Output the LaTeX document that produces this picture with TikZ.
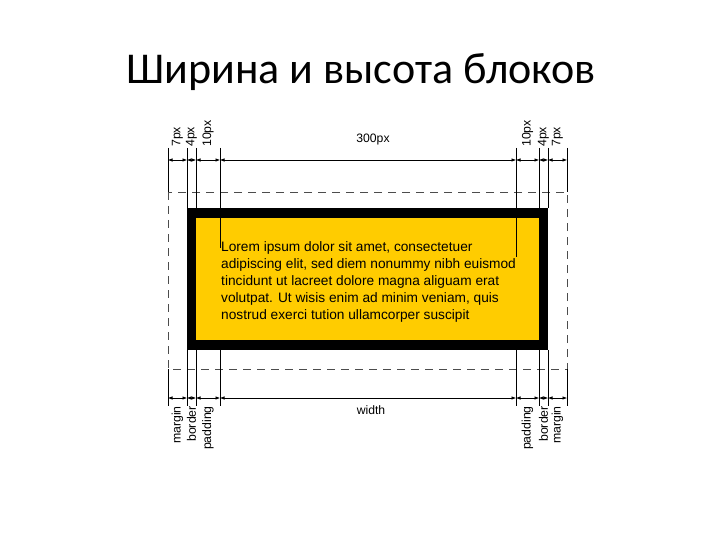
\documentclass[tikz,border=0pt]{standalone}
\usepackage{fontspec}
\setmainfont{Liberation Sans}
\newfontfamily\titlefont{Carlito}
\usetikzlibrary{arrows.meta}
\definecolor{boxyellow}{RGB}{255,204,0}

\begin{document}
\begin{tikzpicture}[x=1pt,y=-1pt,>={Latex[length=4.5pt,width=3.5pt]}]
  \tikzset{dim/.style={<->,line width=0.6pt},
    ext/.style={line width=0.7pt},
    lbl/.style={font=\fontsize{12.3}{14}\selectfont,inner sep=0pt,rotate=90}}
  \useasboundingbox (0,0) rectangle (720,540);
  \node[font=\titlefont\fontsize{44}{50}\selectfont,anchor=base] (title) at (361,84) {Ширина и высота блоков};
  % block with border and padding
  \fill[black] (187,208) rectangle (548,350);
  \fill[boxyellow] (196,218) rectangle (539,340);
  \draw[gray!60!black,line width=0.7pt,dash pattern=on 8pt off 6pt] (168,192) rectangle (567,369);
  \node[anchor=north west,inner sep=0pt,align=left,font=\fontsize{13.7}{17}\selectfont] (text) at (221,241)
    {Lorem ipsum dolor sit amet, consectetuer\\adipiscing elit, sed diem nonummy nibh euismod\\
     tincidunt ut lacreet dolore magna aliguam erat\\volutpat. Ut wisis enim ad minim veniam, quis\\
     nostrud exerci tution ullamcorper suscipit};
  % extension lines
  \foreach \x/\a/\b in {168/148/192,187/148/208,196/148/208,220/148/248,
                        516/148/257,539/148/208,548/148/208,567/148/192}
    \draw[ext] (\x,\a) -- (\x,\b);
  \foreach \x/\a in {168/369,187/350,196/350,220/350,516/350,539/350,548/350,567/369}
    \draw[ext] (\x,\a) -- (\x,406);
  % dimension lines
  \foreach \x [count=\i] in {168,187,196,220,516,539,548,567} {
    \coordinate (top\i) at (\x,160);
    \coordinate (bot\i) at (\x,398);
  }
  \foreach \i/\j in {1/2,2/3,3/4,4/5,5/6,6/7,7/8} {
    \draw[dim] (top\i) -- (top\j);
    \draw[dim] (bot\i) -- (bot\j);
  }
  \node[font=\fontsize{12.2}{14}\selectfont] (size) at (373,140) {300px};
  \node[font=\fontsize{12.2}{14}\selectfont] (width) at (371,410) {width};
  % labels
  \foreach \x/\t in {177.5/7px,191.5/4px,208/10px,527.5/10px,543.5/4px,557.5/7px}
    \node[lbl,anchor=west] at (\x,147) {\t};
  \foreach \x/\t in {177.5/margin,191.5/border,208/padding,527.5/padding,543.5/border,557.5/margin}
    \node[lbl,anchor=east] at (\x,406) {\t};
\end{tikzpicture}
\end{document}
